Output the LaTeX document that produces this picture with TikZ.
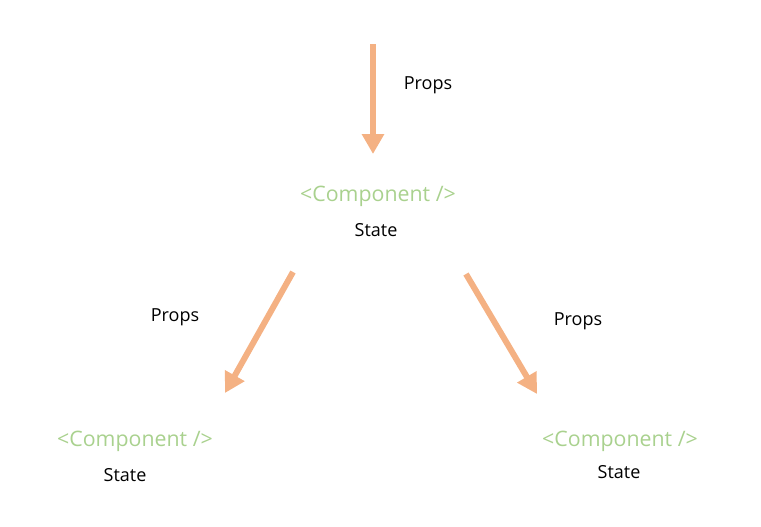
\documentclass[tikz,border=0pt]{standalone}
\usepackage{fontspec}
\setmainfont{Open Sans}
\usetikzlibrary{arrows.meta}
\definecolor{arroworange}{HTML}{F4B183}
\definecolor{compgreen}{HTML}{A9D18E}
\begin{document}
\begin{tikzpicture}[x=0.75pt,y=-0.75pt,
  comp/.style={text=compgreen,font=\fontsize{16}{18}\selectfont,inner sep=0pt},
  lbl/.style={text=black,font=\fontsize{13.5}{16}\selectfont,inner sep=0pt},
  flow/.style={draw=arroworange,line width=4.5pt,-{Triangle[width=16pt,length=15pt]}}]
\useasboundingbox (0,0) rectangle (761,526);
% top
\coordinate (t0) at (373,44);
\coordinate (t1) at (373,154);
\node[lbl] (ptop) at (428,85) {Props};
\node[comp] (ctop) at (378,196) {<Component />};
\node[lbl] (stop) at (376,230) {State};
% left
\coordinate (l0) at (293,272);
\coordinate (l1) at (225,393);
\node[lbl] (pleft) at (175,317) {Props};
\node[comp] (cleft) at (135,441) {<Component />};
\node[lbl] (sleft) at (125,475) {State};
% right
\coordinate (r0) at (466,274);
\coordinate (r1) at (537,394);
\node[lbl] (pright) at (578,321) {Props};
\node[comp] (cright) at (620,441) {<Component />};
\node[lbl] (sright) at (619,472) {State};
\draw[flow] (t0) -- (t1);
\draw[flow] (l0) -- (l1);
\draw[flow] (r0) -- (r1);
\end{tikzpicture}
\end{document}
